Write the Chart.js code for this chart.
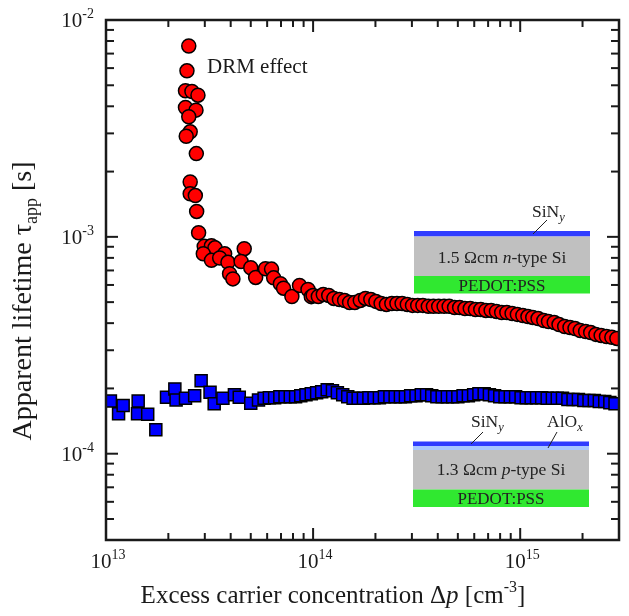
<!DOCTYPE html>
<html>
<head>
<meta charset="utf-8">
<script src="https://cdn.jsdelivr.net/npm/chart.js@4.4.1/dist/chart.umd.min.js"></script>
<style>
  html, body { margin: 0; padding: 0; background: #fff; }
</style>
</head>
<body>
<canvas id="lifetime" width="629" height="616"></canvas>
<script>
// 1.5 Ohm cm n-type Si (red circles)
const nCarriers = [
    2.51e13, 2.46e13, 2.42e13, 2.60e13, 2.78e13, 2.42e13, 2.72e13, 2.51e13, 2.55e13, 2.44e13,
    2.73e13, 2.55e13, 2.55e13, 2.70e13, 2.74e13, 2.80e13, 2.98e13, 3.23e13, 3.36e13, 2.95e13,
    3.74e13, 4.65e13, 3.23e13, 3.54e13, 3.88e13, 4.49e13, 3.95e13, 4.10e13, 5.00e13, 5.28e13,
    5.89e13, 6.30e13, 6.45e13, 6.95e13, 7.20e13, 7.90e13, 8.60e13, 9.45e13, 9.80e13,
    1.00e14, 1.06e14, 1.12e14, 1.19e14, 1.26e14, 1.34e14, 1.42e14, 1.50e14, 1.59e14, 1.69e14,
    1.79e14, 1.90e14, 2.01e14, 2.13e14, 2.26e14, 2.40e14, 2.54e14, 2.69e14, 2.85e14, 3.02e14,
    3.20e14, 3.39e14, 3.60e14, 3.81e14, 4.04e14, 4.29e14, 4.54e14, 4.82e14, 5.10e14, 5.41e14,
    5.74e14, 6.08e14, 6.45e14, 6.83e14, 7.24e14, 7.68e14, 8.14e14, 8.62e14, 9.14e14, 9.69e14,
    1.03e15, 1.09e15, 1.15e15, 1.22e15, 1.30e15, 1.37e15, 1.46e15, 1.54e15, 1.64e15, 1.74e15,
    1.84e15, 1.95e15, 2.07e15, 2.19e15, 2.32e15, 2.46e15, 2.61e15, 2.77e15, 2.93e15
];
const nLifetime = [
    7.59e-3, 5.83e-3, 4.72e-3, 4.68e-3, 4.50e-3, 3.95e-3, 3.84e-3, 3.58e-3, 3.05e-3, 2.91e-3,
    2.42e-3, 1.79e-3, 1.58e-3, 1.55e-3, 1.31e-3, 1.045e-3, 9.04e-4, 9.09e-4, 8.90e-4, 8.36e-4,
    8.36e-4, 8.82e-4, 7.79e-4, 7.99e-4, 7.63e-4, 7.70e-4, 6.76e-4, 6.40e-4, 7.20e-4, 6.50e-4,
    7.13e-4, 7.10e-4, 6.47e-4, 6.08e-4, 5.80e-4, 5.31e-4, 5.97e-4, 5.72e-4, 5.30e-4,
    5.37e-4, 5.31e-4, 5.42e-4, 5.37e-4, 5.20e-4, 5.14e-4, 5.09e-4, 4.98e-4, 4.98e-4, 5.09e-4,
    5.20e-4, 5.14e-4, 5.04e-4, 4.93e-4, 4.88e-4, 4.93e-4, 4.93e-4, 4.93e-4, 4.88e-4, 4.83e-4,
    4.83e-4, 4.83e-4, 4.78e-4, 4.78e-4, 4.78e-4, 4.78e-4, 4.78e-4, 4.72e-4, 4.72e-4, 4.67e-4,
    4.67e-4, 4.62e-4, 4.62e-4, 4.58e-4, 4.58e-4, 4.53e-4, 4.48e-4, 4.48e-4, 4.43e-4, 4.39e-4,
    4.34e-4, 4.29e-4, 4.25e-4, 4.20e-4, 4.11e-4, 4.07e-4, 4.03e-4, 3.94e-4, 3.86e-4, 3.82e-4,
    3.78e-4, 3.70e-4, 3.66e-4, 3.62e-4, 3.55e-4, 3.51e-4, 3.47e-4, 3.44e-4, 3.40e-4
];

// 1.3 Ohm cm p-type Si (blue squares)
const pCarriers = [
    1.05e13, 1.15e13, 1.21e13, 1.43e13, 1.42e13, 1.59e13, 1.74e13, 1.96e13, 2.15e13, 2.18e13,
    2.42e13, 2.68e13, 2.88e13, 3.18e13, 3.33e13, 3.67e13, 4.17e13, 4.40e13, 5.00e13, 5.45e13,
    5.80e13, 6.15e13, 6.52e13, 6.91e13, 7.32e13, 7.76e13, 8.23e13, 8.72e13, 9.24e13, 9.80e13,
    1.04e14, 1.10e14, 1.17e14, 1.24e14, 1.31e14, 1.39e14, 1.47e14, 1.56e14, 1.65e14, 1.75e14,
    1.86e14, 1.97e14, 2.09e14, 2.21e14, 2.35e14, 2.49e14, 2.64e14, 2.79e14, 2.96e14, 3.14e14,
    3.33e14, 3.53e14, 3.74e14, 3.96e14, 4.20e14, 4.45e14, 4.72e14, 5.00e14, 5.30e14, 5.62e14,
    5.96e14, 6.32e14, 6.70e14, 7.10e14, 7.52e14, 7.97e14, 8.45e14, 8.96e14, 9.50e14,
    1.01e15, 1.07e15, 1.13e15, 1.20e15, 1.27e15, 1.35e15, 1.43e15, 1.51e15, 1.60e15, 1.70e15,
    1.80e15, 1.91e15, 2.03e15, 2.15e15, 2.28e15, 2.41e15, 2.56e15, 2.71e15, 2.87e15
];
const pLifetime = [
    1.75e-4, 1.53e-4, 1.67e-4, 1.75e-4, 1.53e-4, 1.52e-4, 1.29e-4, 1.82e-4, 1.99e-4, 1.77e-4,
    1.80e-4, 1.85e-4, 2.17e-4, 1.92e-4, 1.70e-4, 1.80e-4, 1.87e-4, 1.82e-4, 1.71e-4, 1.77e-4,
    1.80e-4, 1.81e-4, 1.81e-4, 1.83e-4, 1.83e-4, 1.83e-4, 1.83e-4, 1.85e-4, 1.87e-4, 1.89e-4,
    1.91e-4, 1.93e-4, 1.97e-4, 1.95e-4, 1.91e-4, 1.87e-4, 1.83e-4, 1.80e-4, 1.80e-4, 1.80e-4,
    1.81e-4, 1.81e-4, 1.81e-4, 1.83e-4, 1.83e-4, 1.83e-4, 1.83e-4, 1.83e-4, 1.85e-4, 1.85e-4,
    1.87e-4, 1.87e-4, 1.85e-4, 1.83e-4, 1.83e-4, 1.83e-4, 1.83e-4, 1.83e-4, 1.85e-4, 1.85e-4,
    1.87e-4, 1.89e-4, 1.89e-4, 1.87e-4, 1.85e-4, 1.83e-4, 1.83e-4, 1.83e-4, 1.83e-4,
    1.81e-4, 1.81e-4, 1.81e-4, 1.81e-4, 1.81e-4, 1.80e-4, 1.80e-4, 1.80e-4, 1.80e-4, 1.78e-4,
    1.78e-4, 1.78e-4, 1.76e-4, 1.76e-4, 1.76e-4, 1.74e-4, 1.74e-4, 1.72e-4, 1.70e-4
];

// major ticks and their exponents
const xTicks = [1e13, 1e14, 1e15];
const xTickExp = ['13', '14', '15'];
const yTicks = [1e-4, 1e-3, 1e-2];
const yTickExp = ['-4', '-3', '-2'];

const FONT = '"Liberation Serif", "DejaVu Serif", serif';
const INK = '#1a1a1a';

const toPoints = (xs, ys) => xs.map((x, i) => ({ x: x, y: ys[i] }));

// draw a run of text pieces: [text, size, dy, style]
function rich(ctx, parts, x, y, align) {
    let total = 0;
    parts.forEach(p => {
        ctx.font = (p[3] || '') + ' ' + p[1] + 'px ' + FONT;
        p.w = ctx.measureText(p[0]).width;
        total += p.w;
    });
    let cx = align === 'center' ? x - total / 2 : (align === 'right' ? x - total : x);
    parts.forEach(p => {
        ctx.font = (p[3] || '') + ' ' + p[1] + 'px ' + FONT;
        ctx.fillText(p[0], cx, y + (p[2] || 0));
        cx += p.w;
    });
}

function line(ctx, x1, y1, x2, y2) {
    ctx.beginPath();
    ctx.moveTo(x1, y1);
    ctx.lineTo(x2, y2);
    ctx.stroke();
}

const decorations = {
    id: 'decorations',
    afterDatasetsDraw(chart) {
        const { ctx, chartArea: a, scales: { x, y } } = chart;
        ctx.save();
        ctx.strokeStyle = INK;
        ctx.fillStyle = INK;
        ctx.textAlign = 'left';
        ctx.textBaseline = 'alphabetic';

        // frame
        ctx.lineWidth = 2.5;
        ctx.strokeRect(a.left, a.top, a.right - a.left, a.bottom - a.top);

        // inward ticks on all four sides
        ctx.lineWidth = 2;
        for (let e = 13; e <= 15; e++) {
            for (let m = 1; m <= 9; m++) {
                const v = m * Math.pow(10, e);
                if (v < x.min || v >= x.max) continue;
                const px = x.getPixelForValue(v);
                const len = m === 1 ? 12 : 7;
                line(ctx, px, a.bottom, px, a.bottom - len);
                line(ctx, px, a.top, px, a.top + len);
            }
        }
        for (let e = -5; e <= -2; e++) {
            for (let m = 1; m <= 9; m++) {
                const v = m * Math.pow(10, e);
                if (v < y.min * 0.999 || v > y.max * 1.001) continue;
                const py = y.getPixelForValue(v);
                const len = m === 1 ? 12 : 8;
                line(ctx, a.left, py, a.left + len, py);
                line(ctx, a.right, py, a.right - len, py);
            }
        }

        // tick labels
        xTicks.forEach((v, i) => {
            rich(ctx, [['10', 21], [xTickExp[i], 14, -9]], x.getPixelForValue(v) + 2, 568, 'center');
        });
        yTicks.forEach((v, i) => {
            rich(ctx, [['10', 21], [yTickExp[i], 14, -9]], a.left - 12, y.getPixelForValue(v) + 7, 'right');
        });

        // axis titles
        rich(ctx, [['Excess carrier concentration \u0394', 25], ['p', 25, 0, 'italic'],
                   [' [cm', 25], ['-3', 16, -11], [']', 25]], 333, 603, 'center');
        ctx.save();
        ctx.translate(31, 301);
        ctx.rotate(-Math.PI / 2);
        rich(ctx, [['Apparent lifetime \u03c4', 28], ['app', 18, 6], [' [s]', 28]], 0, 0, 'center');
        ctx.restore();

        rich(ctx, [['DRM effect', 21]], 207, 73, 'left');

        // sample sketches
        ctx.fillStyle = '#2f3cff';
        ctx.fillRect(414, 231, 176, 5.5);
        ctx.fillStyle = '#c0c0c0';
        ctx.fillRect(414, 236.5, 176, 39.5);
        ctx.fillStyle = '#30e830';
        ctx.fillRect(414, 276, 176, 17.5);

        ctx.fillStyle = '#2f3cff';
        ctx.fillRect(413, 441.5, 176, 4.5);
        ctx.fillStyle = '#a9c8ff';
        ctx.fillRect(413, 446, 176, 4);
        ctx.fillStyle = '#c0c0c0';
        ctx.fillRect(413, 450, 176, 39.5);
        ctx.fillStyle = '#30e830';
        ctx.fillRect(413, 489.5, 176, 17.5);

        ctx.fillStyle = '#222';
        rich(ctx, [['1.5 \u03a9cm ', 17.5], ['n', 17.5, 0, 'italic'], ['-type Si', 17.5]], 502, 263, 'center');
        rich(ctx, [['PEDOT:PSS', 17]], 502, 291, 'center');
        rich(ctx, [['SiN', 17.5], ['y', 12.5, 4, 'italic']], 532, 217, 'left');

        rich(ctx, [['1.3 \u03a9cm ', 17.5], ['p', 17.5, 0, 'italic'], ['-type Si', 17.5]], 501, 475, 'center');
        rich(ctx, [['PEDOT:PSS', 17]], 501, 504, 'center');
        rich(ctx, [['SiN', 17.5], ['y', 12.5, 4, 'italic']], 471, 427, 'left');
        rich(ctx, [['AlO', 17.5], ['x', 12.5, 4, 'italic']], 547, 427, 'left');

        ctx.strokeStyle = '#222';
        ctx.lineWidth = 1;
        line(ctx, 547, 220, 533, 234);
        line(ctx, 483, 432, 471, 444);
        line(ctx, 557, 432, 548, 448);

        ctx.restore();
    }
};

new Chart(document.getElementById('lifetime'), {
    type: 'scatter',
    data: {
        datasets: [
            {
                label: 'p-type',
                data: toPoints(pCarriers, pLifetime),
                pointStyle: 'rect',
                pointRadius: 8.5,
                backgroundColor: '#0000ff',
                borderColor: '#000',
                borderWidth: 1.5
            },
            {
                label: 'n-type',
                data: toPoints(nCarriers, nLifetime),
                pointStyle: 'circle',
                pointRadius: 7,
                backgroundColor: '#ff0000',
                borderColor: '#000',
                borderWidth: 1.5
            }
        ]
    },
    options: {
        responsive: false,
        animation: false,
        devicePixelRatio: 1,
        layout: {
            padding: { left: 106, right: 4, top: 20, bottom: 76 }
        },
        plugins: {
            legend: { display: false },
            tooltip: { enabled: false }
        },
        scales: {
            x: { type: 'logarithmic', min: 1e13, max: 3e15, display: false },
            y: { type: 'logarithmic', min: 4e-5, max: 1e-2, display: false }
        }
    },
    plugins: [decorations]
});
</script>
</body>
</html>
